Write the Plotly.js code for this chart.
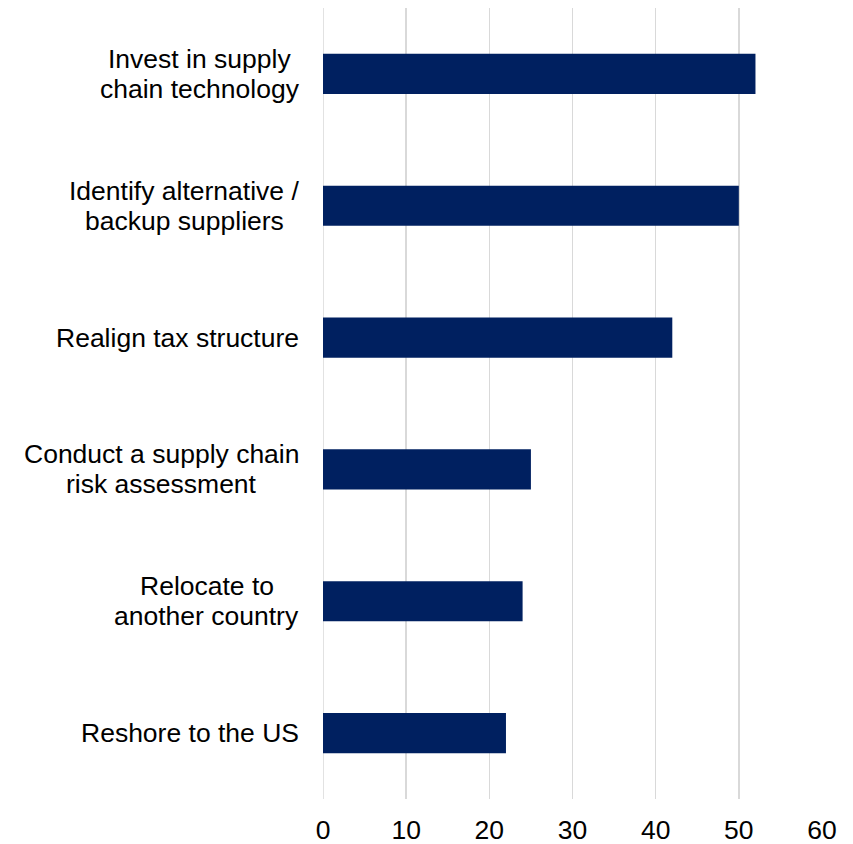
<!DOCTYPE html>
<html>
<head>
<meta charset="utf-8">
<script src="https://cdn.plot.ly/plotly-3.0.1.min.js"></script>
<style>html,body{margin:0;padding:0;background:#fff;}#chart{width:853px;height:844px;}</style>
</head>
<body>
<div id="chart"></div>
<script>
const categories = [
  "Invest in supply<br>chain technology",
  "Identify alternative /<br>backup suppliers",
  "Realign tax structure",
  "Conduct a supply chain<br>risk assessment",
  "Relocate to<br>another country",
  "Reshore to the US"
];
const values = [52, 50, 42, 25, 24, 22];
const xTicks = [0, 10, 20, 30, 40, 50, 60];

const FONT = 'Liberation Sans, Arial, sans-serif';
const FSIZE = 26.5;
const LINE_GAP = 30;

const trace = {
  type: 'bar',
  orientation: 'h',
  x: values,
  y: categories,
  width: 0.305,
  marker: {color: '#002060'},
  hoverinfo: 'x+y'
};

// measure text widths so that multi-line labels are centred as a block, right-aligned to the axis
const ctx = document.createElement('canvas').getContext('2d');
ctx.font = FSIZE + 'px "Liberation Sans", Arial, sans-serif';
const annotations = [];
categories.forEach(c => {
  const lines = c.split('<br>');
  const maxW = Math.max(...lines.map(l => ctx.measureText(l).width));
  lines.forEach((l, i) => {
    annotations.push({
      xref: 'paper', yref: 'y', x: 0, y: c,
      xanchor: 'center', yanchor: 'middle',
      xshift: -24 - maxW / 2,
      yshift: ((lines.length - 1) / 2 - i) * LINE_GAP,
      showarrow: false, text: l, borderpad: 0,
      font: {family: FONT, size: FSIZE, color: '#000'}
    });
  });
});

const layout = {
  width: 853, height: 844,
  margin: {l: 323, r: 31, t: 8, b: 45},
  paper_bgcolor: '#fff', plot_bgcolor: '#fff',
  showlegend: false,
  font: {family: FONT, size: FSIZE, color: '#000'},
  xaxis: {
    range: [0, 60], tickvals: xTicks, ticktext: xTicks.map(String),
    showgrid: true, gridcolor: '#d9d9d9', gridwidth: 1.5,
    zeroline: false, showline: false, ticks: '',
    ticklabelstandoff: 12, fixedrange: true
  },
  yaxis: {
    type: 'category', autorange: 'reversed',
    showticklabels: false, showgrid: false, zeroline: false, showline: false, ticks: ''
  },
  shapes: [{
    type: 'line', xref: 'x', yref: 'paper', x0: 0, x1: 0, y0: 0, y1: 1,
    line: {color: '#d9d9d9', width: 1.5}, layer: 'below'
  }],
  annotations: annotations
};

Plotly.newPlot('chart', [trace], layout, {displayModeBar: false, staticPlot: true});
</script>
</body>
</html>
